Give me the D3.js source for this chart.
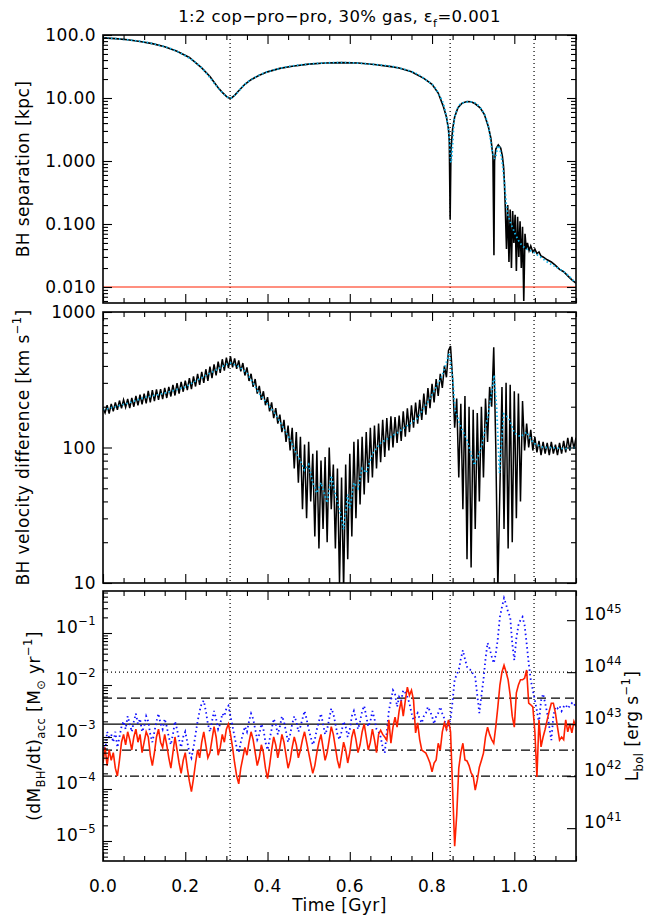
<!DOCTYPE html>
<html><head><meta charset="utf-8">
<script src="https://cdn.jsdelivr.net/npm/d3@7/dist/d3.min.js"></script>
<style>body{margin:0;background:#fff}</style>
</head><body>
<svg id="c" width="654" height="917"></svg>
<script>
// ---------------- DATA ----------------
// Panel 1: BH separation [kpc] (raw, black) and smoothed (cyan dotted)
const sepTime = [0,0.03,0.06,0.09,0.12,0.15,0.18,0.21,0.24,0.26,0.28,0.29,0.30,0.305,0.309,0.313,0.32,0.33,0.345,0.36,0.38,0.40,0.43,0.46,0.50,0.54,0.58,0.62,0.66,0.70,0.72,0.75,0.78,0.80,0.815,0.827,0.835,0.840,0.842,0.844,0.846,0.850,0.855,0.863,0.873,0.885,0.895,0.905,0.917,0.927,0.937,0.943,0.948,0.9505,0.952,0.955,0.961,0.967,0.971,0.974,0.976,0.978,0.981,0.984,0.987,0.990,0.993,0.996,0.999,1.002,1.005,1.008,1.011,1.014,1.017,1.020,1.023,1.026,1.029,1.032,1.036,1.040,1.045,1.050,1.055,1.060,1.065,1.070,1.080,1.090,1.100,1.110,1.120,1.130,1.140,1.150];
const sepRaw = [90,87.5,84,79,73,65,55,44,30,22,14.5,12.3,10.6,10.1,9.9,10.1,11,13,16.5,19.5,23,26,29.5,32,34.5,36,36.5,36,34,31.5,30,26,20.5,16.5,12,7.5,5,3.2,2,0.12,1.5,3.2,5,7,8.3,8.8,8.7,8.1,7.0,5.5,3.5,2.3,1.2,0.032,1.0,1.55,1.8,1.6,1.2,0.8,0.45,0.19,0.04,0.2,0.025,0.17,0.02,0.16,0.05,0.14,0.018,0.13,0.03,0.11,0.02,0.09,0.006,0.07,0.04,0.05,0.038,0.045,0.036,0.04,0.034,0.036,0.031,0.03,0.027,0.025,0.022,0.019,0.0175,0.015,0.013,0.0115];
const sepSmoothTime = [0,0.06,0.12,0.18,0.24,0.28,0.30,0.309,0.32,0.345,0.38,0.43,0.50,0.58,0.66,0.72,0.78,0.815,0.835,0.842,0.846,0.855,0.873,0.895,0.917,0.937,0.948,0.953,0.961,0.971,0.976,0.982,0.988,0.995,1.002,1.010,1.020,1.030,1.045,1.060,1.080,1.100,1.120,1.150];
const sepSmooth = [90,84,73,55,30,14.5,10.6,9.9,11,16.5,23,29.5,34.5,36.5,34,30,20.5,12,5,2.2,0.95,5,8.3,8.7,7.0,3.5,1.3,1.1,1.75,0.9,0.45,0.17,0.12,0.09,0.07,0.055,0.045,0.04,0.036,0.031,0.025,0.021,0.0175,0.0115];
const sepLimit = 0.01;

// Panel 2: BH velocity difference [km/s], raw sampled every 0.005 Gyr
const velStep = 0.005;
const velRaw = [195,180,205,178,210,185,215,190,222,195,
225,198,228,195,232,200,240,205,245,208,
250,212,262,215,265,220,268,225,270,228,
275,232,280,238,290,242,298,250,305,258,
312,265,325,270,335,282,350,290,362,300,
378,310,395,325,410,340,430,355,448,370,
460,385,470,390,455,380,440,365,420,340,
390,310,350,280,320,250,285,225,260,205,
235,185,215,165,195,150,175,130,160,110,
145,95,140,70,130,55,120,35,105,30,
110,40,90,22,95,18,80,25,85,20,
100,35,75,18,70,10,60,9,75,15,
90,22,110,30,115,38,120,45,130,55,
140,60,145,70,150,78,160,85,165,95,
170,100,168,108,172,112,185,120,195,130,
205,140,215,150,225,160,250,175,275,195,
295,215,320,240,350,275,400,330,520,560,
320,140,230,60,210,35,240,15,200,13,
190,25,180,40,200,60,230,110,280,200,
550,100,9,50,280,25,300,18,290,20,
260,30,250,40,220,95,150,100,135,95,
120,92,112,88,110,90,108,88,110,90,
105,88,108,90,112,92,118,95,120,98,
118];
const velSmoothTime = [0,0.03,0.06,0.1,0.15,0.2,0.25,0.28,0.30,0.31,0.33,0.35,0.38,0.42,0.455,0.47,0.48,0.49,0.50,0.51,0.52,0.53,0.545,0.555,0.565,0.575,0.585,0.595,0.60,0.61,0.62,0.63,0.64,0.655,0.675,0.715,0.765,0.795,0.825,0.842,0.850,0.856,0.87,0.885,0.903,0.92,0.937,0.951,0.957,0.964,0.97,0.974,0.986,1.0,1.015,1.03,1.046,1.07,1.09,1.12,1.15];
const velSmooth = [190,200,212,233,252,280,340,380,410,420,395,355,250,175,114,90,80,68,75,55,46,55,39,62,45,35,25,45,35,55,50,70,65,90,108,128,165,230,340,500,330,189,142,113,74,100,177,343,200,65,120,177,166,128,120,130,108,100,100,98,100];

// Panel 3: log10 accretion rate [Msun/yr], sampled every 0.005 Gyr
const accStep = 0.005;
const accLogRed = [-3.5,-3.2,-3.55,-3.25,-3.45,-3.3,-3.6,-3.75,-3.45,
-3.1,-2.95,-3.15,-2.9,-3.05,-3.25,-3.0,-2.85,-3.1,-2.95,-3.3,-3.1,
-2.9,-3.0,-3.35,-3.55,-3.3,-3.0,-2.85,-3.1,-3.2,-2.95,
-3.15,-3.4,-3.6,-3.3,-3.0,-3.25,-3.5,-3.7,-3.45,-3.3,
-3.6,-3.85,-4.05,-3.8,-3.5,-3.25,-3.4,-3.1,-2.9,-3.15,
-3.4,-3.3,-3.05,-2.8,-3.0,-3.35,-3.2,-2.95,-3.1,-2.85,-2.75,-2.95,
-3.2,-3.5,-3.75,-3.9,-3.6,-3.4,-3.2,-3.35,-3.1,-2.9,-3.05,-3.3,
-3.55,-3.4,-3.15,-3.3,-3.6,-3.8,-3.55,-3.25,-3.0,-3.15,-3.4,-3.2,
-2.95,-3.1,-3.35,-3.6,-3.45,-3.2,-3.0,-3.15,-3.4,-3.25,-3.05,-2.9,
-3.1,-3.3,-3.5,-3.7,-3.55,-3.3,-3.1,-2.95,-3.2,-3.45,-3.3,-3.05,
-2.8,-2.95,-3.2,-3.45,-3.6,-3.35,-3.1,-3.25,-3.5,-3.3,-3.0,-2.85,
-3.05,-3.3,-3.15,-2.9,-2.75,-3.0,-3.25,-3.1,-2.85,-3.05,-3.3,-2.95,
-2.87,-2.95,-3.0,-3.06,-2.67,-3.12,-2.81,-2.62,-2.81,-2.5,-2.3,-2.6,-2.3,-2.04,-2.2,-2.1,-2.29,-2.92,-2.73,-3.05,
-3.25,-3.28,-3.31,-3.4,-3.5,-3.67,-3.5,-3.44,-3.12,-3.25,-2.9,-2.73,-2.85,-2.67,-2.9,
-4.0,-5.1,-4.5,-3.6,-3.3,-3.12,
-3.44,-3.46,-3.55,-3.69,-3.75,-4.02,-3.83,-3.58,-3.45,-3.31,
-3.0,-2.81,-2.95,-3.05,-3.12,-2.8,-2.42,-2.0,-1.75,-1.62,
-1.75,-1.9,-2.2,-2.6,-2.81,-2.15,-2.0,-1.9,-1.9,-1.87,
-1.71,-2.35,-2.38,-2.42,-2.9,-3.77,-2.67,-3.19,-3.0,-2.85,
-2.67,-2.5,-2.35,-2.35,-2.54,-2.81,-3.06,-3.0,-3.05,-2.67,
-2.9,-2.75,-2.92,-2.7,-2.8];
const accLogBlue = [-3.1,-3.3,-2.9,-3.0,-2.95,-3.1,-2.9,-3.2,-3.0,
-2.8,-2.7,-2.85,-2.6,-2.75,-2.9,-2.7,-2.55,-2.75,-2.65,-2.9,-2.8,
-2.6,-2.7,-2.95,-3.1,-2.9,-2.7,-2.55,-2.75,-2.85,-2.65,
-2.8,-3.0,-3.15,-2.95,-2.7,-2.85,-3.05,-3.2,-3.0,-2.9,
-3.1,-3.3,-3.4,-3.2,-2.95,-2.7,-2.5,-2.35,-2.3,-2.5,
-2.75,-2.9,-2.7,-2.5,-2.65,-2.85,-2.75,-2.55,-2.6,-2.45,-2.4,-2.6,
-2.8,-3.0,-3.2,-3.3,-3.1,-2.95,-2.8,-2.9,-2.7,-2.55,-2.65,-2.85,
-3.05,-2.95,-2.75,-2.85,-3.1,-3.25,-3.05,-2.85,-2.65,-2.75,-2.95,-2.8,
-2.6,-2.7,-2.9,-3.1,-2.95,-2.75,-2.6,-2.7,-2.9,-2.8,-2.65,-2.5,
-2.65,-2.85,-3.0,-3.15,-3.05,-2.85,-2.7,-2.55,-2.75,-2.95,-2.85,-2.65,
-2.45,-2.55,-2.75,-2.95,-3.05,-2.9,-2.7,-2.8,-3.0,-2.85,-2.6,-2.5,
-2.65,-2.85,-2.7,-2.5,-2.4,-2.6,-2.8,-2.7,-2.5,-2.65,-2.85,-2.9,
-3.0,-3.2,-3.31,-2.9,-2.5,-2.3,-2.1,-2.17,-2.42,-2.23,-2.3,-2.1,-2.15,-2.23,-2.35,-2.54,-2.67,-2.6,-2.54,-2.65,-2.73,-2.6,-2.54,-2.42,-2.5,-2.6,-2.75,
-2.6,-2.54,-2.42,-2.55,-2.65,-2.87,-2.75,-2.67,-2.3,-1.9,
-1.8,-1.71,-1.5,-1.33,-1.5,-1.65,-1.7,-1.71,-1.8,-1.85,
-2.2,-2.54,-2.2,-1.9,-1.5,-1.19,-1.3,-1.45,-1.58,-1.4,
-1.1,-0.69,-0.5,-0.33,-0.45,-0.6,-0.69,-1.2,-1.52,-1.1,
-0.85,-0.75,-0.69,-0.85,-1.2,-1.58,-1.9,-2.1,-2.29,-2.5,
-2.73,-2.3,-2.17,-2.35,-2.54,-2.8,-3.06,-2.6,-2.42,-2.45,
-2.4,-2.5,-2.42,-2.38,-2.45,-2.4,-2.35,-2.4,-2.35];
// Reference luminosity levels [erg/s] and conversion (10% efficiency)
const lumLevels = [1e44, 3.162e43, 1e43, 3.162e42, 1e42];
const lumStyles = ["1,3", "9,5", null, "9,4,2,4", "9,3,2,3,2,3,2,3"];
const mdotToLum = 5.664e45;
// Event times (vertical dotted lines)
const eventTimes = [0.309, 0.844, 1.048];
// Tick labels
const xTickVals = [0,0.2,0.4,0.6,0.8,1.0];
const xTickLabels = ["0.0","0.2","0.4","0.6","0.8","1.0"];
const sepTickVals = [100,10,1,0.1,0.01];
const sepTickLabels = ["100.0","10.00","1.000","0.100","0.010"];
const velTickVals = [1000,100,10];
const velTickLabels = ["1000","100","10"];
const accTickExp = [-1,-2,-3,-4,-5];
const lumTickExp = [45,44,43,42,41];

// ---------------- LAYOUT ----------------
const FONT = "DejaVu Sans";
const FS = 17, LS = "0.4px";
const L = 103, R = 576;
const P1 = {top:35, bottom:303}, P2 = {top:312, bottom:583}, P3 = {top:591, bottom:861};
const svg = d3.select("#c");
const defs = svg.append("defs");

const x = d3.scaleLinear().domain([0,1.15]).range([L,R]);
const y1 = d3.scaleLog().domain([Math.pow(10,2-268/63),100]).range([P1.bottom,P1.top]);
const y2 = d3.scaleLog().domain([10,1000]).range([P2.bottom,P2.top]);
const y3 = d3.scaleLog().domain([Math.pow(10,-5.385),Math.pow(10,-0.192)]).range([P3.bottom,P3.top]);
const yL = d3.scaleLog().domain([Math.pow(10,-5.385)*mdotToLum,Math.pow(10,-0.192)*mdotToLum]).range([P3.bottom,P3.top]);

function clip(id,p){defs.append("clipPath").attr("id",id).append("rect")
  .attr("x",L).attr("y",p.top).attr("width",R-L).attr("height",p.bottom-p.top);}
clip("c1",P1);clip("c2",P2);clip("c3",P3);

function logMinor(scale){
  const [a,b]=scale.domain(); const out=[];
  for(let d=Math.floor(Math.log10(a));d<=Math.ceil(Math.log10(b));d++)
    for(let k=2;k<=9;k++){const v=k*Math.pow(10,d); if(v>=a&&v<=b) out.push(v);}
  return out;
}
const xMinor = d3.range(0,1.1501,0.05).filter(v=>Math.abs(v/0.2-Math.round(v/0.2))>1e-6);

function styleAxis(g){g.select(".domain").remove(); g.selectAll("line").attr("stroke","#000").attr("stroke-width",1.1);}

function drawXTicks(p){
  svg.append("g").attr("transform",`translate(0,${p.bottom})`).call(d3.axisBottom(x).tickValues(xTickVals).tickSize(-9).tickFormat("")).call(styleAxis);
  svg.append("g").attr("transform",`translate(0,${p.bottom})`).call(d3.axisBottom(x).tickValues(xMinor).tickSize(-5).tickFormat("")).call(styleAxis);
  svg.append("g").attr("transform",`translate(0,${p.top})`).call(d3.axisTop(x).tickValues(xTickVals).tickSize(-9).tickFormat("")).call(styleAxis);
  svg.append("g").attr("transform",`translate(0,${p.top})`).call(d3.axisTop(x).tickValues(xMinor).tickSize(-5).tickFormat("")).call(styleAxis);
}
function drawYTicks(scale,majors,right){
  svg.append("g").attr("transform",`translate(${L},0)`).call(d3.axisLeft(scale).tickValues(majors).tickSize(-9).tickFormat("")).call(styleAxis);
  svg.append("g").attr("transform",`translate(${L},0)`).call(d3.axisLeft(scale).tickValues(logMinor(scale)).tickSize(-5).tickFormat("")).call(styleAxis);
  if(right){
    svg.append("g").attr("transform",`translate(${R},0)`).call(d3.axisRight(scale).tickValues(majors).tickSize(-9).tickFormat("")).call(styleAxis);
    svg.append("g").attr("transform",`translate(${R},0)`).call(d3.axisRight(scale).tickValues(logMinor(scale)).tickSize(-5).tickFormat("")).call(styleAxis);
  }
}
function frame(p){svg.append("rect").attr("x",L).attr("y",p.top).attr("width",R-L).attr("height",p.bottom-p.top)
  .attr("fill","none").attr("stroke","#000").attr("stroke-width",1.6);}

// rich text helper: parts = [[text, "n"|"sub"|"sup"], ...]
function rich(g,parts,size){
  const t=g.append("text").attr("font-family",FONT).attr("font-size",size).attr("fill","#000").attr("letter-spacing",LS);
  let shift=0;
  parts.forEach(([s,kind])=>{
    const target = kind==="sub"? size*0.32 : kind==="sup"? -size*0.45 : 0;
    t.append("tspan").attr("dy",target-shift).attr("font-size",kind==="n"?size:size*0.68).text(s);
    shift=target;
  });
  return t;
}
function plain(xp,yp,s,anchor){
  return svg.append("text").attr("x",xp).attr("y",yp).attr("text-anchor",anchor)
    .attr("font-family",FONT).attr("font-size",FS).attr("letter-spacing",LS).text(s);
}

// ---------------- VERTICAL EVENT LINES ----------------
[P1,P2,P3].forEach(p=>{
  svg.append("g").selectAll("line").data(eventTimes).join("line")
    .attr("x1",d=>x(d)).attr("x2",d=>x(d)).attr("y1",p.top).attr("y2",p.bottom)
    .attr("stroke","#000").attr("stroke-width",1.2).attr("stroke-dasharray","1,3");
});

// ---------------- PANEL 1 ----------------
const g1=svg.append("g").attr("clip-path","url(#c1)");
g1.append("line").attr("x1",L).attr("x2",R).attr("y1",y1(sepLimit)).attr("y2",y1(sepLimit)).attr("stroke","#ff2000").attr("stroke-width",1.2);
g1.append("path").datum(sepTime.map((t,i)=>[t,sepRaw[i]]))
  .attr("d",d3.line().x(d=>x(d[0])).y(d=>y1(d[1])))
  .attr("fill","none").attr("stroke","#000").attr("stroke-width",1.6);
g1.append("path").datum(sepSmoothTime.map((t,i)=>[t,sepSmooth[i]]))
  .attr("d",d3.line().curve(d3.curveMonotoneX).x(d=>x(d[0])).y(d=>y1(d[1])))
  .attr("fill","none").attr("stroke","#10b4ec").attr("stroke-width",1.8).attr("stroke-dasharray","1.5,2.5");
drawXTicks(P1); drawYTicks(y1,sepTickVals,true); frame(P1);
sepTickVals.forEach((v,i)=>plain(L-7,y1(v),sepTickLabels[i],"end").attr("dy","0.36em"));

// ---------------- PANEL 2 ----------------
const g2=svg.append("g").attr("clip-path","url(#c2)");
g2.append("path").datum(velRaw.map((v,i)=>[i*velStep,v]))
  .attr("d",d3.line().x(d=>x(d[0])).y(d=>y2(d[1])))
  .attr("fill","none").attr("stroke","#000").attr("stroke-width",1.5);
g2.append("path").datum(velSmoothTime.map((t,i)=>[t,velSmooth[i]]))
  .attr("d",d3.line().x(d=>x(d[0])).y(d=>y2(d[1])))
  .attr("fill","none").attr("stroke","#10b4ec").attr("stroke-width",1.8).attr("stroke-dasharray","1.5,2.5");
drawXTicks(P2); drawYTicks(y2,velTickVals,true); frame(P2);
velTickVals.forEach((v,i)=>plain(L-7,y2(v),velTickLabels[i],"end").attr("dy","0.36em"));

// ---------------- PANEL 3 ----------------
const g3=svg.append("g").attr("clip-path","url(#c3)");
lumLevels.forEach((lv,i)=>{
  const ln=g3.append("line").attr("x1",L).attr("x2",R).attr("y1",yL(lv)).attr("y2",yL(lv))
    .attr("stroke","#000").attr("stroke-width",1.3);
  if(lumStyles[i]) ln.attr("stroke-dasharray",lumStyles[i]);
});
g3.append("path").datum(accLogBlue.map((v,i)=>[i*accStep,Math.pow(10,v)]))
  .attr("d",d3.line().x(d=>x(d[0])).y(d=>y3(d[1])))
  .attr("fill","none").attr("stroke","#1010ff").attr("stroke-width",1.8).attr("stroke-dasharray","1.5,3");
g3.append("path").datum(accLogRed.map((v,i)=>[i*accStep,Math.pow(10,v)]))
  .attr("d",d3.line().x(d=>x(d[0])).y(d=>y3(d[1])))
  .attr("fill","none").attr("stroke","#ff2000").attr("stroke-width",1.6);
drawXTicks(P3);
drawYTicks(y3,accTickExp.map(e=>Math.pow(10,e)),false);
svg.append("g").attr("transform",`translate(${R},0)`).call(d3.axisRight(yL).tickValues(lumTickExp.map(e=>Math.pow(10,e))).tickSize(-9).tickFormat("")).call(styleAxis);
frame(P3);
accTickExp.forEach(e=>{
  const g=svg.append("g").attr("transform",`translate(${L-7},${y3(Math.pow(10,e))})`);
  rich(g,[["10","n"],["\u2212"+Math.abs(e),"sup"]],FS).attr("text-anchor","end").attr("dy","0.36em");
});
lumTickExp.forEach(e=>{
  const g=svg.append("g").attr("transform",`translate(${R+8},${yL(Math.pow(10,e))})`);
  rich(g,[["10","n"],[String(e),"sup"]],FS).attr("dy","0.36em");
});
xTickVals.forEach((v,i)=>plain(x(v),892,xTickLabels[i],"middle"));

// ---------------- TITLES ----------------
const tg=svg.append("g").attr("transform",`translate(${(L+R)/2},22)`);
rich(tg,[["1:2 cop\u2212pro\u2212pro, 30% gas, \u03b5","n"],["f","sub"],["=0.001","n"]],16.5).attr("text-anchor","middle");
plain((L+R)/2,911,"Time [Gyr]","middle");
const a1=svg.append("g").attr("transform",`translate(29,${(P1.top+P1.bottom)/2}) rotate(-90)`);
rich(a1,[["BH separation [kpc]","n"]],FS).attr("text-anchor","middle");
const a2=svg.append("g").attr("transform",`translate(29,${(P2.top+P2.bottom)/2}) rotate(-90)`);
rich(a2,[["BH velocity difference [km s","n"],["\u22121","sup"],["]","n"]],FS).attr("text-anchor","middle");
const a3=svg.append("g").attr("transform",`translate(40,${(P3.top+P3.bottom)/2}) rotate(-90)`);
rich(a3,[["(dM","n"],["BH","sub"],["/dt)","n"],["acc","sub"],[" [M","n"],["\u2299","sub"],[" yr","n"],["\u22121","sup"],["]","n"]],FS).attr("text-anchor","middle");
const a4=svg.append("g").attr("transform",`translate(638,${(P3.top+P3.bottom)/2}) rotate(-90)`);
rich(a4,[["L","n"],["bol","sub"],[" [erg s","n"],["\u22121","sup"],["]","n"]],FS).attr("text-anchor","middle");
</script>
</body></html>
